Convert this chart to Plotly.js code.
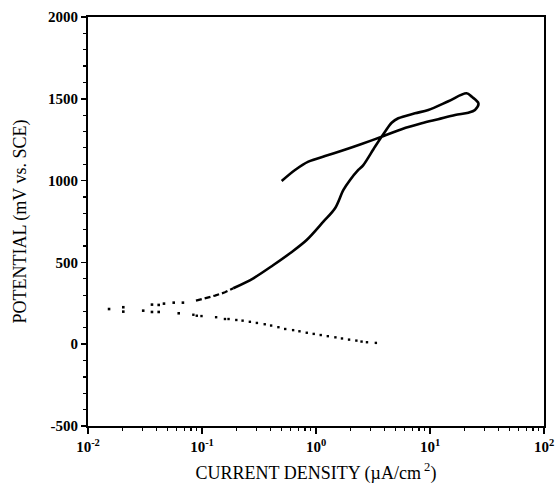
<!DOCTYPE html>
<html>
<head>
<meta charset="utf-8">
<script src="https://cdn.plot.ly/plotly-3.0.1.min.js"></script>
<style>html,body{margin:0;padding:0;background:#fff;}#chart{width:558px;height:484px;}</style>
</head>
<body>
<div id="chart"></div>
<script>
// Scattered points near the corrosion potential (current in µA/cm², potential in mV vs SCE)
const nearEcorrI = [0.0153, 0.0204, 0.0204, 0.0305, 0.0364, 0.0364, 0.0417, 0.0417, 0.0464, 0.0565, 0.068, 0.0625];
const nearEcorrV = [215, 226, 199, 205, 242, 197, 240, 197, 248, 254, 254, 189];

// Lower dotted branch
const lowerI = [0.084, 0.090, 0.099, 0.133, 0.159, 0.171, 0.20, 0.227, 0.263, 0.303, 0.355, 0.404, 0.468, 0.537, 0.63, 0.716, 0.83, 0.955, 1.10, 1.27, 1.48, 1.69, 1.95, 2.26, 2.51, 2.80, 3.35];
const lowerV = [180, 174, 172, 165, 154, 154, 148, 144, 137, 130, 122, 114, 104, 93, 86, 79, 70, 63, 56, 49, 42, 35, 28, 22, 16, 12, 8];

// Beginning of the anodic curve (broken, dashed)
const anodicStartI = [0.0885, 0.11, 0.13, 0.159, 0.188];
const anodicStartV = [266, 281, 297, 317, 342];

// Anodic polarization curve with reverse scan (hysteresis loop)
const anodicI = [0.188, 0.282, 0.423, 0.592, 0.828, 1.16, 1.47, 1.74, 1.99, 2.35, 2.60, 3.29, 4.03, 4.61, 5.27, 7.38, 9.66, 14.5, 20.9, 23.3, 26.6, 24.8, 21.7, 16.6, 11.8, 8.45, 5.64, 3.77, 2.51, 1.68, 1.20, 0.857, 0.655, 0.50];
const anodicV = [342, 403, 484, 556, 637, 749, 831, 943, 1004, 1065, 1095, 1207, 1299, 1354, 1381, 1411, 1432, 1485, 1534, 1512, 1472, 1432, 1415, 1401, 1375, 1350, 1314, 1268, 1224, 1183, 1150, 1116, 1065, 998];

// Tick labels
const xTickVals = [0.01, 0.1, 1, 10, 100];
const xTickText = ['10<sup>-2</sup>', '10<sup>-1</sup>', '10<sup>0</sup>', '10<sup>1</sup>', '10<sup>2</sup>'];
const yTickVals = [-500, 0, 500, 1000, 1500, 2000];
const yTickText = ['-500', '0', '500', '1000', '1500', '2000'];

const serif = 'Liberation Serif, Times New Roman, serif';

const traces = [
  {x: nearEcorrI, y: nearEcorrV, mode: 'markers', type: 'scatter',
   marker: {color: '#000', size: 2.6, symbol: 'square'}, showlegend: false, hoverinfo: 'skip'},
  {x: lowerI, y: lowerV, mode: 'markers', type: 'scatter',
   marker: {color: '#000', size: 2.4, symbol: 'square'}, showlegend: false, hoverinfo: 'skip'},
  {x: anodicStartI, y: anodicStartV, mode: 'lines', type: 'scatter',
   line: {color: '#000', width: 2.2, dash: '6px,3px'}, showlegend: false, hoverinfo: 'skip'},
  {x: anodicI, y: anodicV, mode: 'lines', type: 'scatter',
   line: {color: '#000', width: 2.6, shape: 'spline', smoothing: 0.9}, showlegend: false, hoverinfo: 'skip'}
];

const layout = {
  width: 558, height: 484,
  margin: {l: 88, r: 14, t: 17, b: 58},
  paper_bgcolor: '#fff', plot_bgcolor: '#fff',
  font: {family: serif, color: '#000'},
  showlegend: false,
  xaxis: {
    type: 'log', range: [-2, 2],
    tickvals: xTickVals, ticktext: xTickText,
    ticks: 'outside', ticklen: 6, tickwidth: 1.5, tickcolor: '#000',
    minor: {ticks: 'outside', ticklen: 3, tickwidth: 1.2, tickcolor: '#000', tickvals: [0.02,0.03,0.04,0.05,0.06,0.07,0.08,0.09,0.2,0.3,0.4,0.5,0.6,0.7,0.8,0.9,2,3,4,5,6,7,8,9,20,30,40,50,60,70,80,90]},
    showline: true, linecolor: '#000', linewidth: 2, mirror: true,
    showgrid: false, zeroline: false,
    tickfont: {family: serif, size: 15, color: '#000', weight: 'bold'},
    title: {text: 'CURRENT DENSITY (µA/cm<sup> 2</sup>)', font: {family: serif, size: 18, color: '#000'}, standoff: 20},
    automargin: false
  },
  yaxis: {
    range: [-500, 2000],
    tickvals: yTickVals, ticktext: yTickText,
    ticks: 'outside', ticklen: 5, tickwidth: 1.5, tickcolor: '#000',
    minor: {dtick: 100, ticks: 'outside', ticklen: 3, tickwidth: 1.2, tickcolor: '#000'},
    showline: true, linecolor: '#000', linewidth: 2, mirror: true,
    showgrid: false, zeroline: false,
    tickfont: {family: serif, size: 15, color: '#000', weight: 'bold'},
    title: {text: 'POTENTIAL (mV vs. SCE)', font: {family: serif, size: 18, color: '#000'}, standoff: 17},
    automargin: false
  }
};

Plotly.newPlot('chart', traces, layout, {displayModeBar: false, staticPlot: true});
</script>
</body>
</html>
